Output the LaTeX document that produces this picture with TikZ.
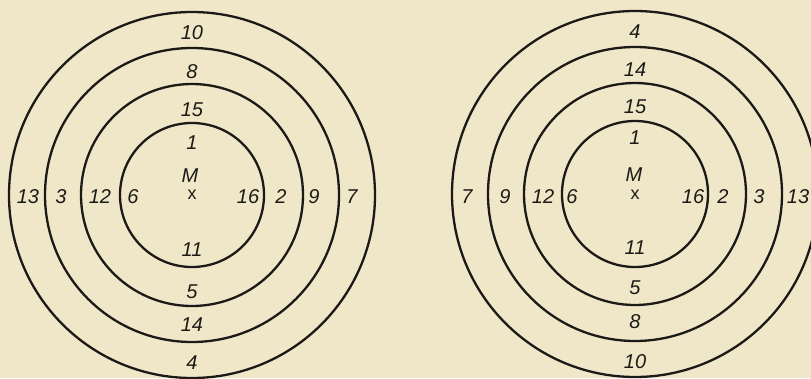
\documentclass[tikz,border=0pt]{standalone}
\usepackage{fontspec}
\setmainfont{Liberation Sans}
\usepackage{tikz}
\usetikzlibrary{positioning}

\definecolor{paper}{RGB}{240,231,200}
\definecolor{ink}{RGB}{28,26,22}

\begin{document}
\begin{tikzpicture}[
  x=1pt, y=-1pt,
  ring/.style={draw=ink, line width=2.3pt},
  num/.style={text=ink, inner sep=0pt, font=\fontsize{20}{20}\selectfont\itshape},
  cross/.style={text=ink, inner sep=0pt, font=\fontsize{18}{18}\selectfont}
]
\fill[paper] (0,0) rectangle (811,378);
\useasboundingbox (0,0) rectangle (811,378);

% left target
\coordinate (lc) at (192,195);
\foreach \r in {183,147,111,72} \draw[ring] (lc) circle (\r);
\node[cross] (lx) at (192,195) {x};
\node[num] (lm) at (190,176) {M};
\node[num] (lt10) at (192,33) {10};
\node[num] (lt8) at (192,72) {8};
\node[num] (lt15) at (192,110) {15};
\node[num] (lt1) at (192,143) {1};
\node[num] (lb11) at (192,250) {11};
\node[num] (lb5) at (192,292) {5};
\node[num] (lb14) at (192,325) {14};
\node[num] (lb4) at (192,363) {4};
\node[num] (ll13) at (28,197) {13};
\node[num] (ll3) at (61,197) {3};
\node[num] (ll12) at (100,197) {12};
\node[num] (ll6) at (133,197) {6};
\node[num] (lr16) at (248,197) {16};
\node[num] (lr2) at (281,197) {2};
\node[num] (lr9) at (314,197) {9};
\node[num] (lr7) at (352,197) {7};

% right target
\coordinate (rc) at (635,194);
\foreach \r in {183,147,111,73} \draw[ring] (rc) circle (\r);
\node[cross] (rx) at (635,195) {x};
\node[num] (rm) at (634,175) {M};
\node[num] (rt4) at (635,32) {4};
\node[num] (rt14) at (635,70) {14};
\node[num] (rt15) at (635,107) {15};
\node[num] (rt1) at (635,138) {1};
\node[num] (rb11) at (635,248) {11};
\node[num] (rb5) at (635,288) {5};
\node[num] (rb8) at (635,322) {8};
\node[num] (rb10) at (635,362) {10};
\node[num] (rl7) at (467,197) {7};
\node[num] (rl9) at (505,197) {9};
\node[num] (rl12) at (543,197) {12};
\node[num] (rl6) at (572,197) {6};
\node[num] (rr16) at (693,197) {16};
\node[num] (rr2) at (723,197) {2};
\node[num] (rr3) at (759,197) {3};
\node[num] (rr13) at (798,197) {13};
\end{tikzpicture}
\end{document}
